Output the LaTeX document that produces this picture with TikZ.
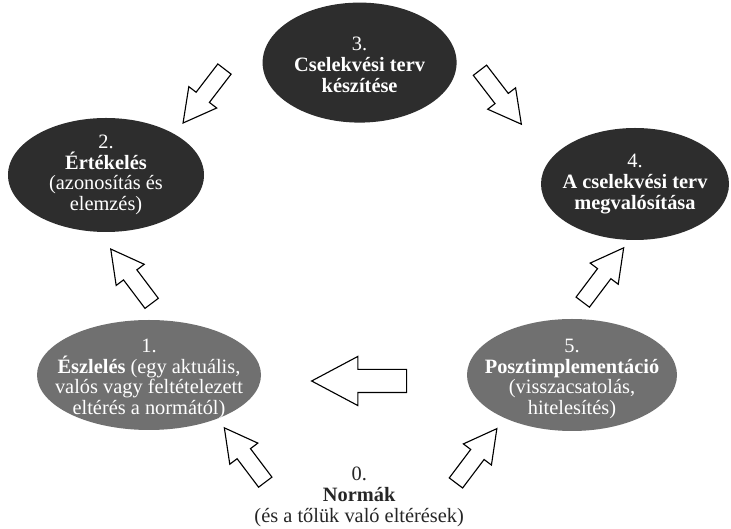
\documentclass[tikz,border=0pt]{standalone}
\usepackage{fontspec}
\setmainfont{Liberation Serif}
\usetikzlibrary{shapes.geometric, shapes.arrows, positioning}
\definecolor{darkfill}{HTML}{2D2D2D}
\definecolor{greyfill}{HTML}{707070}

\begin{document}
\begin{tikzpicture}[
    darkstage/.style={ellipse, fill=darkfill, inner sep=0pt},
    lightstage/.style={ellipse, fill=greyfill, inner sep=0pt},
    stagetext/.style={text=white, align=center, font=\fontsize{14.5}{14.8}\selectfont},
    blockarrow/.style={single arrow, draw=black, fill=white, line width=0.8pt, inner xsep=0pt, inner ysep=0.195cm, minimum height=1.7cm, single arrow head extend=0.23cm, single arrow tip angle=57, anchor=tail}
]
\path[use as bounding box, fill=white] (0,0) rectangle (18.275,13.225);

% Stages
\node[darkstage, minimum width=4.85cm, minimum height=3cm] (e3) at (8.99,11.66) {};
\node[darkstage, minimum width=4.9cm, minimum height=2.85cm] (e2) at (2.65,8.85) {};
\node[darkstage, minimum width=4.7cm, minimum height=2.8cm] (e4) at (15.875,8.625) {};
\node[lightstage, minimum width=5.6cm, minimum height=2.75cm] (e1) at (3.725,3.85) {};
\node[lightstage, minimum width=5.25cm, minimum height=2.8cm] (e5) at (14.3,3.85) {};

\node[stagetext, yshift=-0.05cm] (t3) at (e3) {3.\\\textbf{Cselekvési terv}\\\textbf{készítése}};
\node[stagetext] (t2) at (e2) {2.\\\textbf{Értékelés}\\(azonosítás és\\elemzés)};
\node[stagetext] (t4) at (e4) {4.\\\textbf{A cselekvési terv}\\\textbf{megvalósítása}};
\node[stagetext, yshift=-0.1cm] (t1) at (e1) {1.\\\textbf{Észlelés} (egy aktuális,\\valós vagy feltételezett\\eltérés a normától)};
\node[stagetext, yshift=-0.1cm] (t5) at (e5) {5.\\\textbf{Posztimplementáció}\\(visszacsatolás,\\hitelesítés)};

\node[align=center, text=black!85, font=\fontsize{14.5}{14.8}\selectfont] (norms) at (8.98,0.8) {0.\\\textbf{Normák}\\(és a tőlük való eltérések)};

% Arrows
\node[blockarrow, rotate=232.5] (a32) at (5.62,11.51) {};
\node[blockarrow, rotate=307.5] (a34) at (11.99,11.48) {};
\node[blockarrow, rotate=127] (a12) at (3.80,5.63) {};
\node[blockarrow, rotate=53] (a54) at (14.56,5.66) {};
\node[blockarrow, rotate=127] (a01) at (6.64,1.16) {};
\node[blockarrow, rotate=53] (a05) at (11.39,1.14) {};
\node[blockarrow, rotate=180, minimum height=2.375cm, inner ysep=0.275cm, single arrow head extend=0.325cm, single arrow tip angle=56] (a51) at (10.18,3.70) {};

\end{tikzpicture}
\end{document}
